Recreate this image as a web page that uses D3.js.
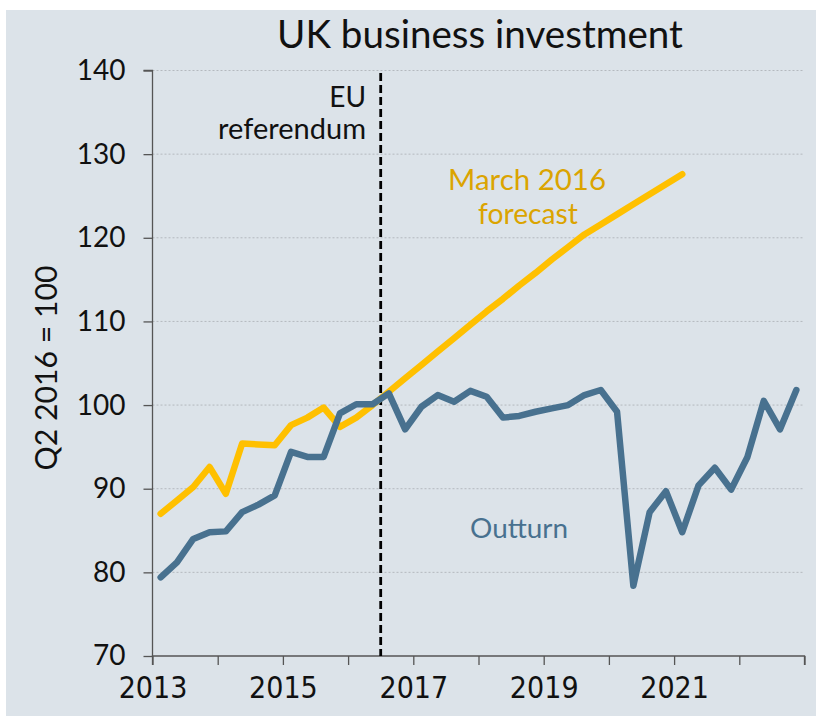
<!DOCTYPE html>
<html>
<head>
<meta charset="utf-8">
<script src="https://cdn.jsdelivr.net/npm/d3@7"></script>
<style>
  html, body { margin: 0; padding: 0; background: #ffffff; }
  svg { display: block; }
</style>
</head>
<body>
<svg id="chart" width="816" height="716"></svg>
<script>
// ---------- DATA ----------
const startYear = 2013;           // first quarter: 2013 Q1
const outturn = [
  79.4, 81.2, 84.0, 84.8, 84.9, 87.2, 88.1, 89.2,
  94.4, 93.8, 93.8, 99.0, 100.1, 100.1, 101.4, 97.1,
  99.8, 101.2, 100.4, 101.7, 101.0, 98.5, 98.7, 99.2,
  99.6, 100.0, 101.2, 101.8, 99.2, 78.4, 87.2, 89.7,
  84.8, 90.4, 92.5, 89.9, 93.8, 100.5, 97.1, 101.8
];
const forecast = [
  87.0, 88.6, 90.2, 92.6, 89.4, 95.4, 95.3, 95.2,
  97.6, 98.5, 99.7, 97.4, 98.5, 100.0, 101.6, 103.2,
  104.8, 106.4, 108.0, 109.6, 111.2, 112.7, 114.3, 115.8,
  117.4, 118.9, 120.4, 121.6, 122.8, 124.0, 125.2, 126.4,
  127.6
];
const yTicks = [70, 80, 90, 100, 110, 120, 130, 140];
const xTickYears = [2013, 2014, 2015, 2016, 2017, 2018, 2019, 2020, 2021, 2022, 2023];
const xLabelYears = [2013, 2015, 2017, 2019, 2021];
const referendum = 2016.5;
const title = "UK business investment";
const yLabel = "Q2 2016 = 100";

// ---------- LAYOUT ----------
const svg = d3.select("#chart");
const W = 816, H = 716;
const bg = "#dce3e9";
const blue = "#48718f";
const gold = "#ffc000";
const goldText = "#dba400";

svg.append("rect").attr("x", 6).attr("y", 10).attr("width", W - 6).attr("height", H - 10).attr("fill", bg);

const x = d3.scaleLinear().domain([2013, 2023]).range([152.5, 804.5]);
const y = d3.scaleLinear().domain([70, 140]).range([656, 70.5]);

const qx = i => x(startYear + (i + 0.5) / 4);

const fontMain = "'Liberation Sans Narrow', 'DejaVu Sans Condensed', sans-serif";
const fontLabel = "Lato, 'Noto Sans', sans-serif";

// gridlines
svg.append("g").selectAll("line").data(yTicks.filter(v => v > 70)).join("line")
  .attr("x1", x(2013)).attr("x2", x(2023))
  .attr("y1", d => y(d)).attr("y2", d => y(d))
  .attr("stroke", "#b4b9be").attr("stroke-width", 1).attr("stroke-dasharray", "2,2");

// y axis
const yAxis = d3.axisLeft(y).tickValues(yTicks).tickSize(9).tickPadding(18).tickFormat(d3.format("d"));
const gy = svg.append("g").attr("transform", `translate(${x(2013)},0)`).call(yAxis);
gy.select(".domain").attr("stroke", "#555").attr("stroke-width", 1.3).attr("d", `M-9,${y(140)}H0V${y(70)}`);
gy.selectAll(".tick line").attr("stroke", "#555").attr("stroke-width", 1.3);
gy.selectAll(".tick text").attr("font-family", fontLabel).attr("font-size", 28).attr("fill", "#111");

// x axis
const xAxis = d3.axisBottom(x).tickValues(xTickYears).tickSize(9).tickPadding(12)
  .tickFormat(d => xLabelYears.includes(d) ? String(d) : "");
const gx = svg.append("g").attr("transform", `translate(0,${y(70)})`).call(xAxis);
gx.select(".domain").attr("stroke", "#555").attr("stroke-width", 1.3).attr("d", `M${x(2013)},9V0H${x(2023)}V9`);
gx.selectAll(".tick line").attr("stroke", "#555").attr("stroke-width", 1.3);
gx.selectAll(".tick text").attr("font-family", fontMain).attr("font-size", 30).attr("fill", "#111");

// referendum line
svg.append("line")
  .attr("x1", x(referendum)).attr("x2", x(referendum))
  .attr("y1", y(139.7)).attr("y2", y(70))
  .attr("stroke", "#000").attr("stroke-width", 2.8).attr("stroke-dasharray", "8,4");

// series lines
const line = d3.line().x((d, i) => qx(i)).y(d => y(d));
svg.append("path").datum(forecast).attr("d", line)
  .attr("fill", "none").attr("stroke", gold).attr("stroke-width", 6.5)
  .attr("stroke-linejoin", "round").attr("stroke-linecap", "round");
svg.append("path").datum(outturn).attr("d", line)
  .attr("fill", "none").attr("stroke", blue).attr("stroke-width", 6.5)
  .attr("stroke-linejoin", "round").attr("stroke-linecap", "round");

// helper to fit text to width
function fit(sel, width) {
  const w = sel.node().getComputedTextLength();
  const fs = parseFloat(sel.attr("font-size"));
  sel.attr("font-size", fs * width / w);
  return sel;
}

// title
fit(svg.append("text").attr("x", 480).attr("y", 48).attr("text-anchor", "middle")
  .attr("font-family", fontLabel).attr("font-size", 32).attr("fill", "#111").text(title), 406);

// y label
fit(svg.append("text").attr("transform", `translate(57,${368}) rotate(-90)`).attr("text-anchor", "middle")
  .attr("font-family", fontLabel).attr("font-size", 26).attr("fill", "#111").text(yLabel), 205);

// annotations
svg.append("text").attr("x", 366).attr("y", 107).attr("text-anchor", "end")
  .attr("font-family", fontLabel).attr("font-size", 28).attr("fill", "#111").text("EU");
fit(svg.append("text").attr("x", 366).attr("y", 139).attr("text-anchor", "end")
  .attr("font-family", fontLabel).attr("font-size", 25).attr("fill", "#111").text("referendum"), 148);

fit(svg.append("text").attr("x", 527).attr("y", 190).attr("text-anchor", "middle")
  .attr("font-family", fontLabel).attr("font-size", 26).attr("fill", goldText).text("March 2016"), 158);
fit(svg.append("text").attr("x", 528).attr("y", 224).attr("text-anchor", "middle")
  .attr("font-family", fontLabel).attr("font-size", 26).attr("fill", goldText).text("forecast"), 100);

fit(svg.append("text").attr("x", 519).attr("y", 538).attr("text-anchor", "middle")
  .attr("font-family", fontLabel).attr("font-size", 26).attr("fill", blue).text("Outturn"), 98);
</script>
</body>
</html>
